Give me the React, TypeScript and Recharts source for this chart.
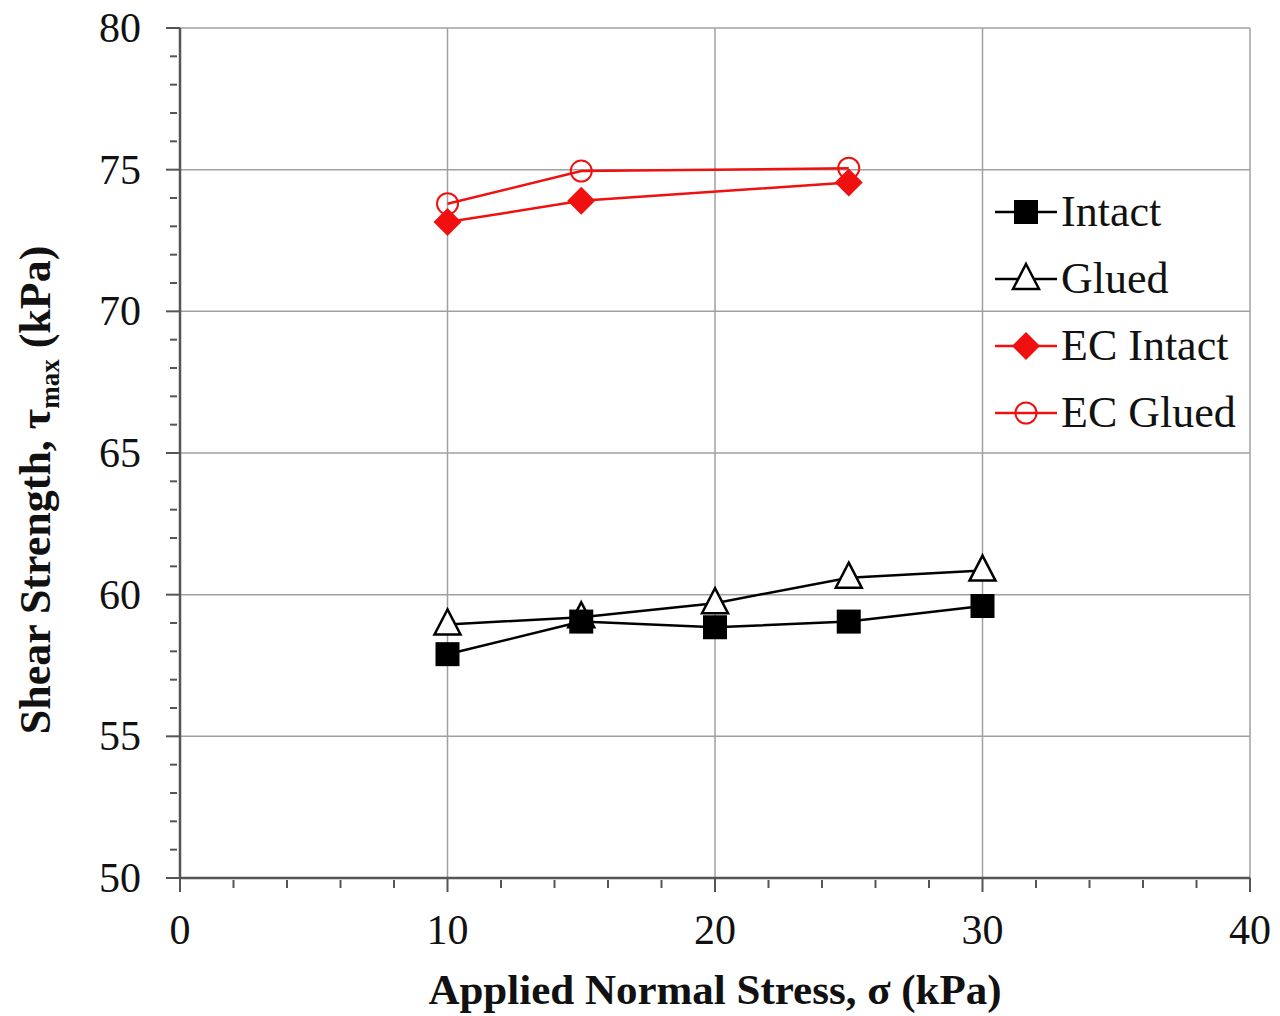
import React from 'react';
import { LineChart, Line, XAxis, YAxis, CartesianGrid, Customized } from 'recharts';

const stress = [10, 15, 20, 25, 30];
const intact = [57.9, 59.05, 58.85, 59.05, 59.6];
const glued = [58.95, 59.2, 59.7, 60.6, 60.85];
const ecStress = [10, 15, 25];
const ecIntact = [73.15, 73.9, 74.55];
const ecGlued = [73.8, 74.95, 75.05];

const xDomain = [0, 40];
const yDomain = [50, 80];
const xTicks = [0, 10, 20, 30, 40];
const xMinorTicks = [0, 2, 4, 6, 8, 10, 12, 14, 16, 18, 20, 22, 24, 26, 28, 30, 32, 34, 36, 38, 40];
const yTicks = [50, 55, 60, 65, 70, 75, 80];
const yMinorTicks = [50, 51, 52, 53, 54, 55, 56, 57, 58, 59, 60, 61, 62, 63, 64, 65, 66, 67, 68, 69, 70, 71, 72, 73, 74, 75, 76, 77, 78, 79, 80];

const legendNames = ['Intact', 'Glued', 'EC Intact', 'EC Glued'];

const RED = '#f01010';
const FONT = '"Liberation Serif", "Times New Roman", serif';
const AXIS = '#555';

const intactData = stress.map((x, i) => ({ x, y: intact[i] }));
const gluedData = stress.map((x, i) => ({ x, y: glued[i] }));
const ecIntactData = ecStress.map((x, i) => ({ x, y: ecIntact[i] }));
const ecGluedData = ecStress.map((x, i) => ({ x, y: ecGlued[i] }));

const Square = ({ cx, cy }: any) => <rect x={cx - 12} y={cy - 12} width={24} height={24} fill="#000" />;
const Triangle = ({ cx, cy }: any) => (
  <path d={`M${cx},${cy - 15} L${cx + 13},${cy + 10} L${cx - 13},${cy + 10} Z`} fill="#fff" stroke="#000" strokeWidth={2.5} />
);
const Diamond = ({ cx, cy }: any) => (
  <path d={`M${cx},${cy - 14} L${cx + 14},${cy} L${cx},${cy + 14} L${cx - 14},${cy} Z`} fill={RED} />
);
const Circle = ({ cx, cy }: any) => <circle cx={cx} cy={cy} r={10.5} fill="none" stroke={RED} strokeWidth={2} />;

const markers = [Square, Triangle, Diamond, Circle];
const colors = ['#000', '#000', RED, RED];

const mkDot = (M: any) => (props: any) => <M key={`${props.index}`} cx={props.cx} cy={props.cy} />;

const XTick = (props: any) => {
  const { x, y, payload } = props;
  const major = xTicks.includes(payload.value);
  return (
    <g>
      <line x1={x} x2={x} y1={y + (major ? 0 : 2)} y2={y + (major ? 14 : 10)} stroke={AXIS} strokeWidth={2} />
      {major && (
        <text x={x} y={y + 66} textAnchor="middle" fontFamily={FONT} fontSize={42} fill="#111">{payload.value}</text>
      )}
    </g>
  );
};

const YTick = (props: any) => {
  const { x, y, payload } = props;
  const major = yTicks.includes(payload.value);
  return (
    <g>
      <line x1={x - (major ? 14 : 10)} x2={x - (major ? 0 : 3)} y1={y} y2={y} stroke={AXIS} strokeWidth={2} />
      {major && (
        <text x={x - 39} y={y + 14} textAnchor="end" fontFamily={FONT} fontSize={42} fill="#111">{payload.value}</text>
      )}
    </g>
  );
};

const LegendBox = () => (
  <g>
    {legendNames.map((name, i) => {
      const cy = 212 + i * 67;
      const M = markers[i];
      return (
        <g key={name}>
          <line x1={995} x2={1057} y1={cy} y2={cy} stroke={colors[i]} strokeWidth={2.5} />
          <M cx={1026} cy={cy} />
          <text x={1061} y={cy + 14} fontFamily={FONT} fontSize={44} fill="#111">{name}</text>
        </g>
      );
    })}
  </g>
);

const YLabel = (props: any) => {
  const vb = props.viewBox;
  const cx = 36;
  const cy = vb.y + vb.height / 2 + 37;
  return (
    <text x={cx} y={cy} transform={`rotate(-90 ${cx} ${cy})`} textAnchor="middle" fontFamily={FONT} fontWeight="bold" fontSize={44} fill="#111" dy={14}>
      Shear Strength, τ<tspan fontSize={27} dy={9}>max</tspan><tspan dy={-9}> (kPa)</tspan>
    </text>
  );
};

const XLabel = (props: any) => {
  const vb = props.viewBox;
  return (
    <text x={vb.x + vb.width / 2} y={1004} textAnchor="middle" fontFamily={FONT} fontWeight="bold" fontSize={43} fill="#111">
      Applied Normal Stress, σ (kPa)
    </text>
  );
};

const vGen = ({ offset }: any) =>
  xTicks.map((v) => offset.left + ((v - xDomain[0]) / (xDomain[1] - xDomain[0])) * offset.width);
const hGen = ({ offset }: any) =>
  yTicks.map((v) => offset.top + ((yDomain[1] - v) / (yDomain[1] - yDomain[0])) * offset.height);

export default function App() {
  return (
    <div style={{ position: 'absolute', left: 0, top: 0, background: '#fff' }}>
      <LineChart width={1280} height={1016} margin={{ top: 28, right: 30, bottom: 78, left: 120 }}>
        <CartesianGrid stroke="#a0a0a0" strokeWidth={1.5} verticalCoordinatesGenerator={vGen} horizontalCoordinatesGenerator={hGen} />
        <XAxis
          type="number"
          dataKey="x"
          domain={xDomain}
          ticks={xMinorTicks}
          interval={0}
          tickSize={0}
          tickMargin={0}
          height={60}
          axisLine={{ stroke: AXIS, strokeWidth: 2.5 }}
          tickLine={false}
          tick={<XTick />}
          label={{ content: XLabel }}
          allowDataOverflow
        />
        <YAxis
          type="number"
          domain={yDomain}
          ticks={yMinorTicks}
          interval={0}
          tickSize={0}
          tickMargin={0}
          width={60}
          axisLine={{ stroke: AXIS, strokeWidth: 2.5 }}
          tickLine={false}
          tick={<YTick />}
          label={{ content: YLabel }}
          allowDataOverflow
        />
        <Line data={gluedData} dataKey="y" stroke="#000" strokeWidth={2.5} dot={mkDot(Triangle)} isAnimationActive={false} />
        <Line data={intactData} dataKey="y" stroke="#000" strokeWidth={2.5} dot={mkDot(Square)} isAnimationActive={false} />
        <Line data={ecIntactData} dataKey="y" stroke={RED} strokeWidth={2.5} dot={mkDot(Diamond)} isAnimationActive={false} />
        <Line data={ecGluedData} dataKey="y" stroke={RED} strokeWidth={2.5} dot={mkDot(Circle)} isAnimationActive={false} />
        <Customized component={LegendBox} />
      </LineChart>
    </div>
  );
}
